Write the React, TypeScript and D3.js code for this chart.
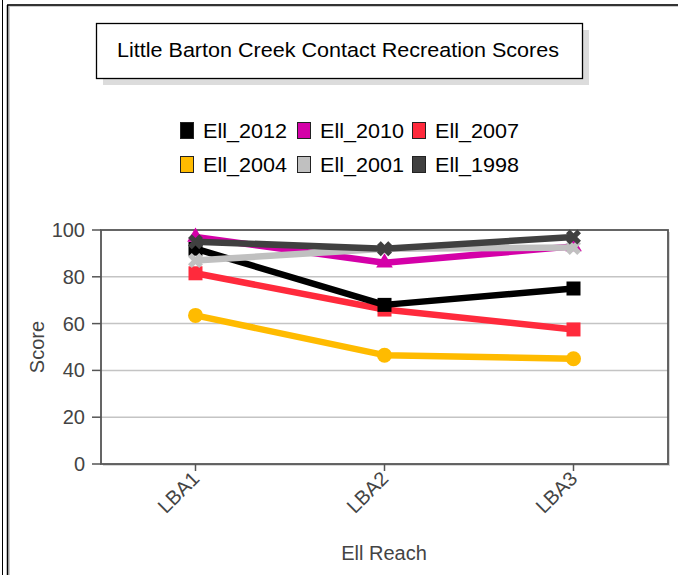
import React from "react";
import * as d3 from "d3";

const categories = ["LBA1", "LBA2", "LBA3"];
const seriesNames = ["Ell_2012", "Ell_2010", "Ell_2007", "Ell_2004", "Ell_2001", "Ell_1998"];
const ell2012 = [92, 68, 75];
const ell2010 = [97, 86, 93];
const ell2007 = [81.5, 66, 57.5];
const ell2004 = [63.5, 46.5, 45];
const ell2001 = [87, 92, 92.5];
const ell1998 = [95, 92, 97];
const yTicks = [0, 20, 40, 60, 80, 100];
const colors = ["#000000", "#d400a8", "#ff2a3c", "#ffbb00", "#c0c0c0", "#404040"];
const shapes = ["square", "triangle", "square", "circle", "x", "x"];

const seriesValues = [ell2012, ell2010, ell2007, ell2004, ell2001, ell1998];
const drawOrder = [3, 2, 0, 1, 4, 5];

const FONT = "'Liberation Sans', Arial, sans-serif";

export default function App() {
  const W = 678, H = 575;
  const left = 101, right = 668, top = 230, bottom = 464;
  const x = d3.scalePoint<string>().domain(categories).range([left, right]).padding(0.5);
  const y = d3.scaleLinear().domain([0, 100]).range([bottom, top]);
  const line = d3.line<number>().x((_, i) => x(categories[i]) as number).y((v) => y(v));

  const marker = (shape: string, cx: number, cy: number, color: string, key: string) => {
    if (shape === "square") return <rect key={key} x={cx - 7} y={cy - 7} width={14} height={14} fill={color} />;
    if (shape === "circle") return <circle key={key} cx={cx} cy={cy} r={7.5} fill={color} />;
    if (shape === "triangle") {
      const p = d3.symbol().type(d3.symbolTriangle).size(120)();
      return <path key={key} d={p as string} transform={`translate(${cx},${cy})`} fill={color} />;
    }
    const p = d3.symbol().type(d3.symbolCross).size(140)();
    return <path key={key} d={p as string} transform={`translate(${cx},${cy}) rotate(45)`} fill={color} />;
  };

  const legendCols = [180, 297, 412];
  const legendRows = [131, 165];

  return (
    <svg width={W} height={H} style={{ position: "absolute", left: 0, top: 0, background: "#fff" }} fontFamily={FONT}>
      <rect x={0} y={0} width={W} height={H} fill="#fff" />
      {/* outer frame lines */}
      <line x1={2.5} y1={0} x2={2.5} y2={H} stroke="#000" strokeWidth={1} />
      <line x1={9} y1={6} x2={9} y2={H} stroke="#ccc" strokeWidth={2} />
      <line x1={8} y1={5.5} x2={W} y2={5.5} stroke="#ccc" strokeWidth={3} />
      <line x1={7.5} y1={5} x2={7.5} y2={H} stroke="#000" strokeWidth={1.5} />
      <line x1={7} y1={5} x2={W} y2={5} stroke="#000" strokeWidth={1.5} />

      {/* title box */}
      <rect x={103} y={30} width={486} height={55} fill="#dcdcdc" />
      <rect x={96.5} y={23.5} width={486} height={55} fill="#fff" stroke="#000" strokeWidth={1.3} />
      <text x={338} y={57} textAnchor="middle" fontSize={20.5} fill="#000" textLength={442} lengthAdjust="spacingAndGlyphs">
        Little Barton Creek Contact Recreation Scores
      </text>

      {/* legend */}
      {seriesNames.map((name, i) => {
        const cx = legendCols[i % 3];
        const cy = legendRows[Math.floor(i / 3)];
        return (
          <g key={name}>
            <rect x={cx + 0.5} y={cy - 8.5} width={13} height={16} fill={colors[i]} stroke="#222" strokeWidth={1} />
            <text x={cx + 23} y={cy + 7} fontSize={20.5} fill="#000" textLength={84} lengthAdjust="spacingAndGlyphs">{name}</text>
          </g>
        );
      })}

      {/* plot shadow & area */}
      <rect x={left + 2} y={top + 2} width={right - left} height={bottom - top} fill="#d8d8d8" />
      <rect x={left} y={top} width={right - left} height={bottom - top} fill="#fff" />
      {yTicks.filter((t) => t > 0 && t < 100).map((t) => (
        <line key={t} x1={left} x2={right} y1={y(t)} y2={y(t)} stroke="#c4c4c4" strokeWidth={1.5} />
      ))}
      <rect x={left} y={top} width={right - left} height={bottom - top} fill="none" stroke="#555" strokeWidth={1.8} />

      {/* y ticks */}
      {yTicks.map((t) => (
        <g key={t}>
          <line x1={left - 9} x2={left} y1={y(t)} y2={y(t)} stroke="#555" strokeWidth={1.5} />
          <text x={left - 16} y={y(t) + 7} textAnchor="end" fontSize={20} fill="#444">{t}</text>
        </g>
      ))}
      {/* x ticks */}
      {categories.map((c) => {
        const cx = x(c) as number;
        return (
          <g key={c}>
            <line x1={cx} x2={cx} y1={bottom} y2={bottom + 7} stroke="#555" strokeWidth={1.5} />
            <text
              transform={`translate(${cx + 5},${bottom + 16}) rotate(-45)`}
              textAnchor="end"
              fontSize={20}
              fill="#444"
            >
              {c}
            </text>
          </g>
        );
      })}

      <text transform={`translate(44,347) rotate(-90)`} textAnchor="middle" fontSize={20} fill="#444">Score</text>
      <text x={384} y={560} textAnchor="middle" fontSize={20} fill="#444">Ell Reach</text>

      {/* series */}
      {drawOrder.map((si) => (
        <g key={seriesNames[si]}>
          <path d={line(seriesValues[si]) as string} fill="none" stroke={colors[si]} strokeWidth={6.5} strokeLinejoin="round" />
          {seriesValues[si].map((v, i) =>
            marker(shapes[si], x(categories[i]) as number, y(v), colors[si], `${si}-${i}`)
          )}
        </g>
      ))}
    </svg>
  );
}
